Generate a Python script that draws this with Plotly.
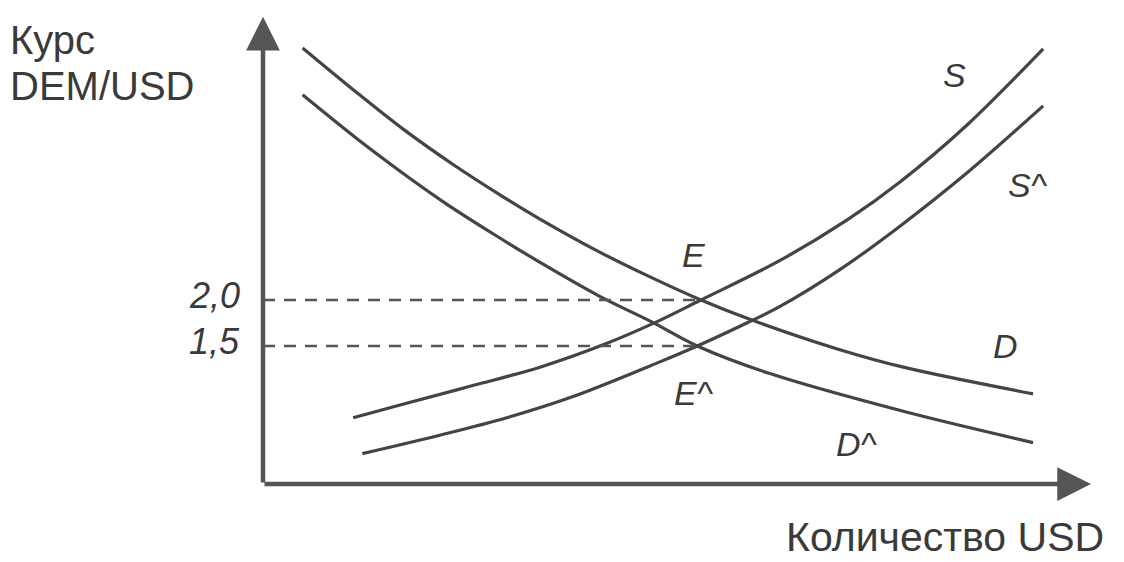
import plotly.graph_objects as go

# ---- data (quantity of USD, DEM/USD rate) ----
s_q = [0.98, 1.57, 2.28, 3.01, 3.74, 4.23, 4.76, 5.62, 6.35, 6.92, 7.65, 8.48]
s_p = [0.72, 0.88, 1.07, 1.27, 1.53, 1.74, 2.00, 2.43, 2.87, 3.28, 3.90, 4.73]

s2_q = [1.08, 1.92, 2.65, 3.37, 4.32, 4.72, 5.32, 5.62, 6.27, 6.92, 7.65, 8.48]
s2_p = [0.33, 0.53, 0.72, 0.95, 1.33, 1.50, 1.78, 1.93, 2.33, 2.80, 3.38, 4.11]

d_q = [0.43, 1.05, 1.52, 2.07, 2.58, 3.01, 3.66, 4.23, 4.76, 5.32, 6.27, 6.96, 8.37]
d_p = [4.74, 4.23, 3.86, 3.47, 3.14, 2.88, 2.52, 2.24, 2.00, 1.78, 1.46, 1.27, 0.98]

d2_q = [0.43, 1.05, 1.49, 2.00, 2.50, 3.01, 3.66, 4.23, 4.72, 5.51, 6.96, 8.37]
d2_p = [4.23, 3.73, 3.40, 3.04, 2.72, 2.41, 2.04, 1.76, 1.50, 1.20, 0.79, 0.45]

eq_q = [4.76, 4.72]        # E, E^
eq_p = [2.0, 1.5]
eq_labels = ["2,0", "1,5"]

x_max, y_max = 9.0, 5.08

W, H = 1124, 562
curve_color = "#444444"
axis_color = "#555555"
FONT = "Liberation Sans, Arial, sans-serif"

fig = go.Figure()
for q, p in [(s_q, s_p), (s2_q, s2_p), (d_q, d_p), (d2_q, d2_p)]:
    fig.add_trace(go.Scatter(x=q, y=p, mode="lines",
                             line=dict(color=curve_color, width=3.2, shape="spline", smoothing=1.0),
                             hoverinfo="skip", showlegend=False))

# dashed guide lines
for q, p in zip(eq_q, eq_p):
    fig.add_trace(go.Scatter(x=[0, q], y=[p, p], mode="lines",
                             line=dict(color=axis_color, width=2.5, dash="12px,9px"),
                             hoverinfo="skip", showlegend=False))

# axes with arrows
fig.add_annotation(x=x_max, y=0, ax=0, ay=0, xref="x", yref="y", axref="x", ayref="y",
                   text="", showarrow=True, arrowhead=2, arrowsize=1.5, arrowwidth=4.5,
                   arrowcolor=axis_color, standoff=0)
fig.add_annotation(x=0, y=y_max, ax=0, ay=0, xref="x", yref="y", axref="x", ayref="y",
                   text="", showarrow=True, arrowhead=2, arrowsize=1.5, arrowwidth=4.5,
                   arrowcolor=axis_color, standoff=0)


def label(text, px, py, size, xanchor="center", italic=False):
    t = f"<i>{text}</i>" if italic else text
    fig.add_annotation(x=px / W, y=1 - py / H, xref="paper", yref="paper", text=t,
                       showarrow=False, xanchor=xanchor, yanchor="middle",
                       font=dict(family=FONT, size=size, color="#3a3a3a"))


label("Курс", 8, 40, 40, xanchor="left")
label("DEM/USD", 8, 86, 40, xanchor="left")
label("Количество USD", 1106, 537, 41, xanchor="right")
for q, p, t in zip(eq_q, eq_p, eq_labels):
    label(t, 242, 300 - (p - 2.0) * 92 - 5, 36, xanchor="right", italic=True)
label("E", 693, 255, 34, italic=True)
label("E^", 694, 393, 34, italic=True)
label("S", 954, 75, 34, italic=True)
label("S^", 1028, 185, 34, italic=True)
label("D", 1005, 346, 34, italic=True)
label("D^", 857, 444, 34, italic=True)

fig.update_layout(
    width=W, height=H, autosize=False,
    margin=dict(l=0, r=0, t=0, b=0),
    plot_bgcolor="white", paper_bgcolor="white",
    xaxis=dict(range=[-263 / 92, 861 / 92], visible=False, fixedrange=True),
    yaxis=dict(range=[2 - 262 / 92, 2 + 300 / 92], visible=False, fixedrange=True),
    showlegend=False,
)

fig.write_html("out.html", config={"displayModeBar": False},
               post_script="document.body.style.margin='0';document.body.style.overflow='hidden';")
